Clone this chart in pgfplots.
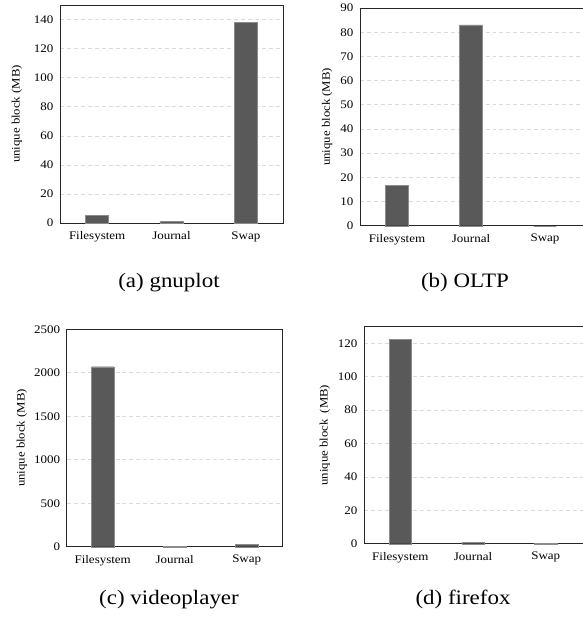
\documentclass[border=0pt]{standalone}
\usepackage{fontspec}
\setmainfont{Liberation Serif}[FakeStretch=1.12]
\usepackage{pgfplots}
\pgfplotsset{compat=1.18}
\definecolor{barc}{HTML}{595959}
\definecolor{barline}{HTML}{8C8C8C}
\definecolor{gridc}{HTML}{D9D9D9}
\definecolor{axisc}{HTML}{262626}

\pgfplotsset{
  panel/.style={
    scale only axis,
    axis line style={axisc,line width=0.8pt},
    xmin=-0.5,xmax=2.5,ymin=0,
    xtick={0,1,2},xticklabels={Filesystem,Journal,Swap},
    major tick length=0pt,
    ymajorgrids,
    grid style={gridc,dash pattern=on 4pt off 3pt,line width=0.6pt},
    tick label style={font=\fontsize{11.6bp}{14bp}\selectfont,text=black},
    xticklabel style={yshift=-5bp},
    yticklabel style={xshift=-3bp},
    /pgf/number format/assume math mode=true,
    /pgf/number format/1000 sep={},
    label style={font=\fontsize{11.4bp}{13bp}\selectfont},
    ylabel={unique block (MB)},
    clip=false,
  },
  ubar/.style={ybar,bar width=0.31,fill=barc,draw=barline,line width=0.4pt,bar shift=0pt}
}

\begin{document}
\begin{tikzpicture}
\path[use as bounding box] (0,0) rectangle (583bp,-620bp);

% (a) gnuplot
\begin{axis}[panel,at={(60bp,-223bp)},anchor=south west,
  width=223bp,height=218bp,ymax=150,ytick={0,20,...,140},
  ylabel style={at={(axis description cs:-0.193,0.5)},anchor=center}]
  \addplot[ubar] coordinates {(0,5.5) (1,1) (2,138)};
\end{axis}
\node[anchor=base,font=\fontsize{20.5bp}{24bp}\selectfont] at (169bp,-287bp) {(a) gnuplot};

% (b) OLTP  (right edge falls outside the page, as in the original)
\begin{axis}[panel,at={(360bp,-225.7bp)},anchor=south west,
  width=226bp,height=217.7bp,xmax=2.554,ymax=90,ytick={0,10,...,90},
  ylabel style={at={(axis description cs:-0.146,0.5)},anchor=center}]
  \addplot[ubar] coordinates {(0,16.8) (1,83) (2,0)};
\end{axis}
\node[anchor=base,font=\fontsize{20.5bp}{24bp}\selectfont] at (465bp,-287bp) {(b) OLTP};

% (c) videoplayer
\begin{axis}[panel,at={(66.7bp,-546.7bp)},anchor=south west,
  width=216bp,height=217.4bp,ymax=2500,ytick={0,500,...,2500},
  ylabel style={at={(axis description cs:-0.207,0.5)},anchor=center}]
  \addplot[ubar] coordinates {(0,2070) (1,4) (2,30)};
\end{axis}
\node[anchor=base,font=\fontsize{20.5bp}{24bp}\selectfont] at (169bp,-604.5bp) {(c) videoplayer};

% (d) firefox
\begin{axis}[panel,at={(364bp,-543.7bp)},anchor=south west,
  width=222bp,height=217bp,xmax=2.554,ymax=130,ytick={0,20,...,120},
  ylabel={unique block\hspace{3bp} (MB)},
  ylabel style={at={(axis description cs:-0.176,0.5)},anchor=center}]
  \addplot[ubar] coordinates {(0,122.3) (1,1) (2,0.3)};
\end{axis}
\node[anchor=base,font=\fontsize{20.5bp}{24bp}\selectfont] at (463bp,-604.5bp) {(d) firefox};
\end{tikzpicture}
\end{document}
